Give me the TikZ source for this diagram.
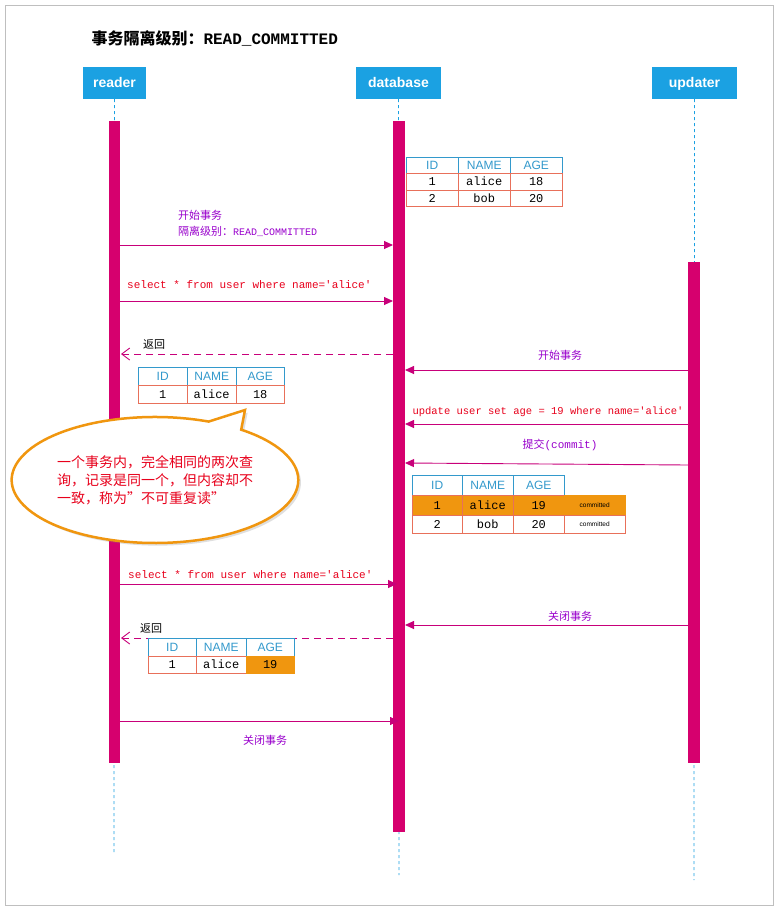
\documentclass[tikz,border=0pt]{standalone}
\usepackage{fontspec}
\setmainfont{Liberation Sans}
\setmonofont{Liberation Mono}
\newfontfamily\cjk{Noto Sans CJK SC}
\usetikzlibrary{arrows.meta,shapes.callouts,shadows}
\definecolor{bar}{HTML}{D6006E}
\definecolor{arr}{HTML}{C8007A}
\definecolor{lbp}{HTML}{9900CC}
\definecolor{lbr}{HTML}{E8001C}
\definecolor{hdr}{HTML}{1BA1E2}
\definecolor{thb}{HTML}{3399CC}
\definecolor{tdb}{HTML}{E8705A}
\definecolor{org}{HTML}{F0960F}
\tikzset{
 x=1pt,y=-1pt,
 head/.style={fill=hdr,text=white,font=\bfseries\fontsize{14}{14}\selectfont,minimum width=63,minimum height=32,inner sep=0,text height=11,text depth=2},
 life/.style={draw=hdr,dashed,line width=0.8},
 act/.style={fill=bar,draw=none},
 msg/.style={draw=arr,line width=0.9,-{Triangle[length=9,width=8]}},
 ret/.style={draw=arr,line width=0.9,dash pattern=on 7 off 5,-{Straight Barb[length=8,width=12]}},
 th/.style={draw=thb,text=thb,font=\fontsize{12}{12}\selectfont,inner sep=0,anchor=north west},
 td/.style={draw=tdb,font=\ttfamily\fontsize{12}{12}\selectfont,inner sep=0,anchor=north west},
 lp/.style={text=lbp,font=\cjk\fontsize{11}{13}\selectfont,inner sep=0,anchor=west},
 lr/.style={text=lbr,font=\ttfamily\fontsize{11}{11}\selectfont,inner sep=0,anchor=west},
}
\newcommand{\cell}[6]{\node[#1,minimum width=#4-#2,minimum height=#5-#3] at (#2,#3) {#6};}
\begin{document}
\begin{tikzpicture}
\useasboundingbox (0,0) rectangle (778,910);
\fill[white] (0,0) rectangle (778,910);
\draw[gray!50,line width=0.8] (5,5) rectangle (773,905);
\node[anchor=west,font=\bfseries\fontsize{16}{16}\selectfont] (title) at (88,38) {{\cjk 事务隔离级别：}\ttfamily READ\_COMMITTED};
% heads
\node[head] (reader) at (114.5,83) {reader};
\node[head,minimum width=85] (db) at (398.5,83) {database};
\node[head,minimum width=85] (upd) at (694.5,83) {updater};
\coordinate (rl) at (114,855); \coordinate (dl) at (399,875); \coordinate (ul) at (694,880);
\draw[life] (reader.south) -- (rl);
\draw[life] (db.south) -- (dl);
\draw[life] (upd.south) -- (ul);
\fill[act] (109,121) rectangle (120,763);
\fill[act] (393,121) rectangle (405,832);
\fill[act] (688,262) rectangle (700,763);
% table 1
\cell{th}{406}{157}{458}{173}{ID}\cell{th}{458}{157}{510}{173}{NAME}\cell{th}{510}{157}{562}{173}{AGE}
\cell{td}{406}{173}{458}{190}{1}\cell{td}{458}{173}{510}{190}{alice}\cell{td}{510}{173}{562}{190}{18}
\cell{td}{406}{190}{458}{206}{2}\cell{td}{458}{190}{510}{206}{bob}\cell{td}{510}{190}{562}{206}{20}
% messages
\coordinate (a1s) at (120,245); \coordinate (a1e) at (393,245);
\draw[msg] (a1s) -- (a1e);
\node[lp] (l1) at (178,215) {开始事务};
\node[lp] (l1b) at (178,231) {隔离级别：{\ttfamily\fontsize{10}{10}\selectfont READ\_COMMITTED}};
\coordinate (a2s) at (120,301); \coordinate (a2e) at (393,301);
\draw[msg] (a2s) -- (a2e);
\node[lr] (l2) at (127,285) {select * from user where name='alice'};
\coordinate (r1s) at (393,354); \coordinate (r1e) at (121,354);
\draw[ret] (r1s) -- (r1e);
\node[anchor=west,font=\cjk\fontsize{11}{11}\selectfont,inner sep=0] (l3) at (143,344) {返回};
% table 2
\cell{th}{138}{367}{187}{385}{ID}\cell{th}{187}{367}{236}{385}{NAME}\cell{th}{236}{367}{284}{385}{AGE}
\cell{td}{138}{385}{187}{403}{1}\cell{td}{187}{385}{236}{403}{alice}\cell{td}{236}{385}{284}{403}{18}
% updater messages
\coordinate (u1s) at (688,370); \coordinate (u1e) at (405,370);
\draw[msg] (u1s) -- (u1e);
\node[lp,anchor=center] (l4) at (560,355) {开始事务};
\coordinate (u2s) at (688,424); \coordinate (u2e) at (405,424);
\draw[msg] (u2s) -- (u2e);
\node[lr,anchor=center,font=\ttfamily\fontsize{10.5}{11}\selectfont] (l5) at (548,412) {update user set age = 19 where name='alice'};
\coordinate (u3s) at (688,465); \coordinate (u3e) at (405,463);
\draw[msg] (u3s) -- (u3e);
\node[lp,anchor=center] (l6) at (560,445) {提交{\ttfamily(commit)}};
% table 3
\cell{th}{412}{475}{462}{495}{ID}\cell{th}{462}{475}{513}{495}{NAME}\cell{th}{513}{475}{564}{495}{AGE}
\cell{td,fill=org}{412}{495}{462}{515}{1}\cell{td,fill=org}{462}{495}{513}{515}{alice}\cell{td,fill=org}{513}{495}{564}{515}{19}
\cell{td,fill=org,draw=org,font=\fontsize{6.5}{6.5}\selectfont}{564}{495}{625}{515}{committed}
\cell{td}{412}{515}{462}{533}{2}\cell{td}{462}{515}{513}{533}{bob}\cell{td}{513}{515}{564}{533}{20}
\cell{td,font=\fontsize{6.5}{6.5}\selectfont}{564}{515}{625}{533}{committed}
% callout
\node[ellipse callout,draw=org,line width=2.5,fill=white,drop shadow={opacity=0.25},
  minimum width=276,minimum height=126,callout absolute pointer={(245,410)},
  text=lbr,font=\cjk\fontsize{14}{18}\selectfont,align=left] (note) at (155,480)
  {一个事务内，完全相同的两次查\\询，记录是同一个，但内容却不\\一致，称为”不可重复读”};
% second select
\coordinate (a3s) at (120,584); \coordinate (a3e) at (397,584);
\draw[msg] (a3s) -- (a3e);
\node[lr] (l7) at (128,575) {select * from user where name='alice'};
\coordinate (u4s) at (688,625); \coordinate (u4e) at (405,625);
\draw[msg] (u4s) -- (u4e);
\node[lp,anchor=center] (l8) at (570,616) {关闭事务};
\coordinate (r2s) at (393,638); \coordinate (r2e) at (121,638);
\draw[ret] (r2s) -- (r2e);
\node[anchor=west,font=\cjk\fontsize{11}{11}\selectfont,inner sep=0] (l9) at (140,628) {返回};
% table 4
\cell{th,fill=white}{148}{638}{196}{656}{ID}\cell{th,fill=white}{196}{638}{246}{656}{NAME}\cell{th,fill=white}{246}{638}{294}{656}{AGE}
\cell{td}{148}{656}{196}{673}{1}\cell{td}{196}{656}{246}{673}{alice}\cell{td,fill=org,draw=org}{246}{656}{294}{673}{19}
% close
\coordinate (a4s) at (120,721); \coordinate (a4e) at (399,721);
\draw[msg] (a4s) -- (a4e);
\node[lp,anchor=center] (l10) at (265,740) {关闭事务};
\end{tikzpicture}
\end{document}
